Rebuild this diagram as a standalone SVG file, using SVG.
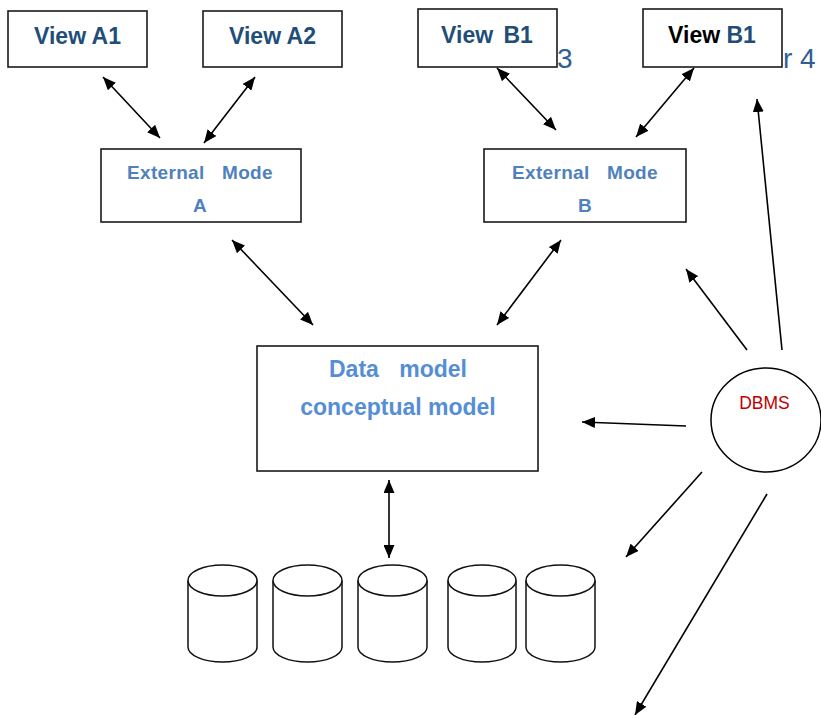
<svg xmlns="http://www.w3.org/2000/svg" width="821" height="715" viewBox="0 0 821 715">
<defs>
<marker id="ah" markerUnits="userSpaceOnUse" markerWidth="15" markerHeight="11" refX="13" refY="5.5" orient="auto-start-reverse">
<path d="M0,0 L13,5.5 L0,11 z" fill="#000"/>
</marker>
<style>
.box{fill:#fff;stroke:#1a1a1a;stroke-width:1.6}
.ln{stroke:#000;stroke-width:1.6;fill:none}
.one{marker-end:url(#ah)}
.two{marker-start:url(#ah);marker-end:url(#ah)}
.view{font-family:"Liberation Sans",Arial,sans-serif;font-weight:bold;font-size:23px;fill:#1f4e79;text-anchor:middle}
.ext{font-family:"Liberation Sans",Arial,sans-serif;font-weight:bold;font-size:19px;fill:#4f81bd;text-anchor:middle;letter-spacing:0.3px}
.dm{font-family:"Liberation Sans",Arial,sans-serif;font-weight:bold;font-size:23px;fill:#558ed5;text-anchor:middle}
.usr{font-family:"Liberation Sans",Arial,sans-serif;font-size:28px;fill:#2e5f95}
.cyl{fill:#fff;stroke:#111;stroke-width:1.5}
</style>
</defs>
<rect width="821" height="715" fill="#fff"/>
<text class="usr" x="557" y="68">3</text>
<text class="usr" x="783" y="68">r 4</text>
<g id="viewA1"><rect class="box" x="8" y="11" width="139" height="56"/><text class="view" x="77.5" y="44">View A1</text></g>
<g id="viewA2"><rect class="box" x="203" y="11" width="139" height="56"/><text class="view" x="272.5" y="44">View A2</text></g>
<g id="viewB1a"><rect class="box" x="418" y="9" width="139" height="58"/><text class="view" x="487" y="43" word-spacing="4">View B1</text></g>
<g id="viewB1b"><rect class="box" x="643" y="9" width="139" height="58"/><text class="view" x="712" y="43"><tspan fill="#000">View</tspan> B1</text></g>
<g id="extA"><rect class="box" x="101" y="149" width="200" height="73"/><text class="ext" x="200" y="179" word-spacing="12">External Mode</text><text class="ext" x="200" y="212">A</text></g>
<g id="extB"><rect class="box" x="484" y="149" width="202" height="73"/><text class="ext" x="585" y="179" word-spacing="12">External Mode</text><text class="ext" x="585" y="212">B</text></g>
<g id="dataModel"><rect class="box" x="257" y="346" width="281" height="125"/><text class="dm" x="398" y="377" word-spacing="14">Data model</text><text class="dm" x="398" y="415">conceptual model</text></g>
<g id="dbms"><ellipse cx="766" cy="420" rx="55" ry="52" fill="#fff" stroke="#000" stroke-width="1.5"/><text x="764.5" y="409" font-family="'Liberation Sans',Arial,sans-serif" font-size="17.5" fill="#c00000" text-anchor="middle">DBMS</text></g>
<g id="db1"><path class="cyl" d="M188,580.5 V647 A34.5,15 0 0 0 257,647 V580.5"/><ellipse class="cyl" cx="222.5" cy="580.5" rx="34.5" ry="15.5"/></g>
<g id="db2"><path class="cyl" d="M273,580.5 V647 A34.5,15 0 0 0 342,647 V580.5"/><ellipse class="cyl" cx="307.5" cy="580.5" rx="34.5" ry="15.5"/></g>
<g id="db3"><path class="cyl" d="M358,580.5 V647 A34.5,15 0 0 0 427,647 V580.5"/><ellipse class="cyl" cx="392.5" cy="580.5" rx="34.5" ry="15.5"/></g>
<g id="db4"><path class="cyl" d="M448,580.5 V647 A34,15 0 0 0 516,647 V580.5"/><ellipse class="cyl" cx="482" cy="580.5" rx="34" ry="15.5"/></g>
<g id="db5"><path class="cyl" d="M526,580.5 V647 A34.5,15 0 0 0 595,647 V580.5"/><ellipse class="cyl" cx="560.5" cy="580.5" rx="34.5" ry="15.5"/></g>
<g id="connectors">
<line class="ln two" x1="103" y1="77" x2="160" y2="138"/>
<line class="ln two" x1="255" y1="77" x2="204" y2="143"/>
<line class="ln two" x1="497" y1="68" x2="556" y2="130"/>
<line class="ln two" x1="694" y1="68" x2="636" y2="137"/>
<line class="ln two" x1="232" y1="240" x2="313" y2="325"/>
<line class="ln two" x1="561" y1="240" x2="497" y2="325"/>
<line class="ln two" x1="389" y1="480" x2="389" y2="558"/>
<line class="ln one" x1="686" y1="426" x2="582" y2="422"/>
<line class="ln one" x1="747" y1="350" x2="686" y2="269"/>
<line class="ln one" x1="782" y1="350" x2="757" y2="99"/>
<line class="ln one" x1="702" y1="472" x2="626" y2="557"/>
<line class="ln one" x1="767" y1="494" x2="635" y2="715"/>
</g>
</svg>
